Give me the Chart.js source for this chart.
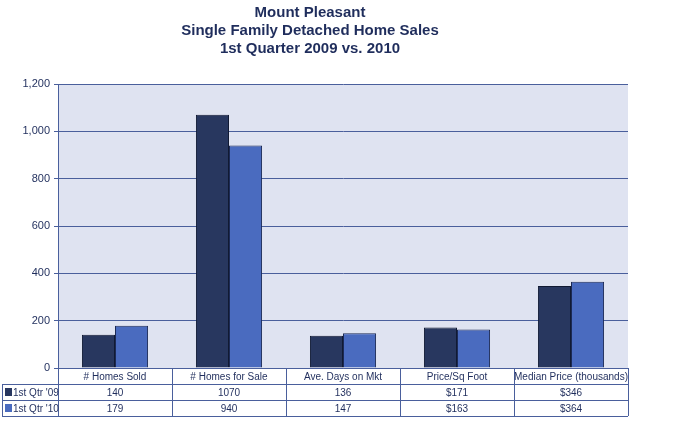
<!DOCTYPE html>
<html>
<head>
<meta charset="utf-8">
<script src="https://cdn.jsdelivr.net/npm/chart.js@4/dist/chart.umd.min.js"></script>
<style>
  html, body { margin: 0; padding: 0; background: #fff; }
  #wrap { width: 675px; height: 423px; }
</style>
</head>
<body>
<div id="wrap"><canvas id="salesChart"></canvas></div>
<script>
// du lieu bieu do
var categories = ['# Homes Sold', '# Homes for Sale', 'Ave. Days on Mkt', 'Price/Sq Foot', 'Median Price (thousands)'];
var qtr09 = [140, 1070, 136, 171, 346];
var qtr10 = [179, 940, 147, 163, 364];
var labels09 = ['140', '1070', '136', '$171', '$346'];
var labels10 = ['179', '940', '147', '$163', '$364'];
var titleLines = ['Mount Pleasant', 'Single Family Detached Home Sales', '1st Quarter 2009 vs. 2010'];

var navy = '#1f2d5c';

// ve tieu de va bang du lieu ben duoi
var tablePlugin = {
    id: 'tablePlugin',
    beforeDraw: function (chart) {
        var a = chart.chartArea, ctx = chart.ctx;
        ctx.save();
        ctx.fillStyle = '#dfe3f1';
        ctx.fillRect(a.left, a.top, a.right - a.left, a.bottom - a.top);
        ctx.restore();
    },
    afterDraw: function (chart) {
        var ctx = chart.ctx, a = chart.chartArea, x = chart.scales.x;
        ctx.save();
        ctx.fillStyle = navy;
        ctx.textAlign = 'center';
        ctx.textBaseline = 'middle';
        ctx.font = 'bold 15px "Liberation Sans", Arial, sans-serif';
        titleLines.forEach(function (t, i) { ctx.fillText(t, 310, 13 + i * 18); });

        var rowH = 16, top = a.bottom;
        var step = (a.right - a.left) / categories.length;
        ctx.strokeStyle = '#4a5f9c';
        ctx.lineWidth = 1;
        // duong ngang
        ctx.beginPath();
        ctx.moveTo(a.left, top + rowH + 0.5); ctx.lineTo(a.right, top + rowH + 0.5);
        ctx.moveTo(2, top + rowH + 0.5); ctx.lineTo(a.left, top + rowH + 0.5);
        ctx.moveTo(2, top + 2 * rowH + 0.5); ctx.lineTo(a.right, top + 2 * rowH + 0.5);
        ctx.moveTo(2, top + 3 * rowH + 0.5); ctx.lineTo(a.right, top + 3 * rowH + 0.5);
        // duong doc
        for (var i = 0; i <= categories.length; i++) {
            var px = Math.round(a.left + i * step) + 0.5;
            ctx.moveTo(px, top); ctx.lineTo(px, top + 3 * rowH);
        }
        ctx.moveTo(2.5, top + rowH); ctx.lineTo(2.5, top + 3 * rowH);
        ctx.stroke();

        ctx.font = '10px "Liberation Sans", Arial, sans-serif';
        ctx.fillStyle = '#1f2d5c';
        categories.forEach(function (c, i) {
            var cx = x.getPixelForValue(i);
            ctx.fillText(c, cx, top + rowH / 2 + 1);
            ctx.fillText(labels09[i], cx, top + rowH * 1.5 + 1);
            ctx.fillText(labels10[i], cx, top + rowH * 2.5 + 1);
        });
        // chu thich
        ctx.textAlign = 'left';
        ctx.fillStyle = '#28375f';
        ctx.fillRect(5, top + rowH + 4, 7, 8);
        ctx.fillStyle = '#4a6bbf';
        ctx.fillRect(5, top + 2 * rowH + 4, 7, 8);
        ctx.fillStyle = navy;
        ctx.fillText("1st Qtr '09", 13, top + rowH * 1.5 + 1);
        ctx.fillText("1st Qtr '10", 13, top + rowH * 2.5 + 1);
        ctx.restore();
    }
};

var ctx = document.getElementById('salesChart').getContext('2d');
new Chart(ctx, {
    type: 'bar',
    data: {
        labels: categories,
        datasets: [{
            label: "1st Qtr '09",
            data: qtr09,
            backgroundColor: '#28375f',
            borderColor: '#111a33',
            borderWidth: 1
        }, {
            label: "1st Qtr '10",
            data: qtr10,
            backgroundColor: '#4a6bbf',
            borderColor: '#1c2a55',
            borderWidth: 1
        }]
    },
    options: {
        responsive: true,
        maintainAspectRatio: false,
        animation: false,
        layout: { padding: { top: 84, right: 47, bottom: 55, left: 0 } },
        plugins: { legend: { display: false }, tooltip: { enabled: false } },
        datasets: { bar: { categoryPercentage: 0.58, barPercentage: 1 } },
        scales: {
            x: {
                ticks: { display: false },
                grid: { display: true, color: 'rgba(0,0,0,0)', drawTicks: false },
                border: { color: '#4a5f9c' }
            },
            y: {
                min: 0, max: 1200,
                ticks: { stepSize: 200, color: '#1f2d5c', font: { size: 11, family: '"Liberation Sans", Arial' }, padding: 4 },
                grid: { color: '#4a5f9c', tickLength: 4 },
                border: { color: '#4a5f9c' },
                afterFit: function (s) { s.width = 58; }
            }
        }
    },
    plugins: [tablePlugin]
});
</script>
</body>
</html>
